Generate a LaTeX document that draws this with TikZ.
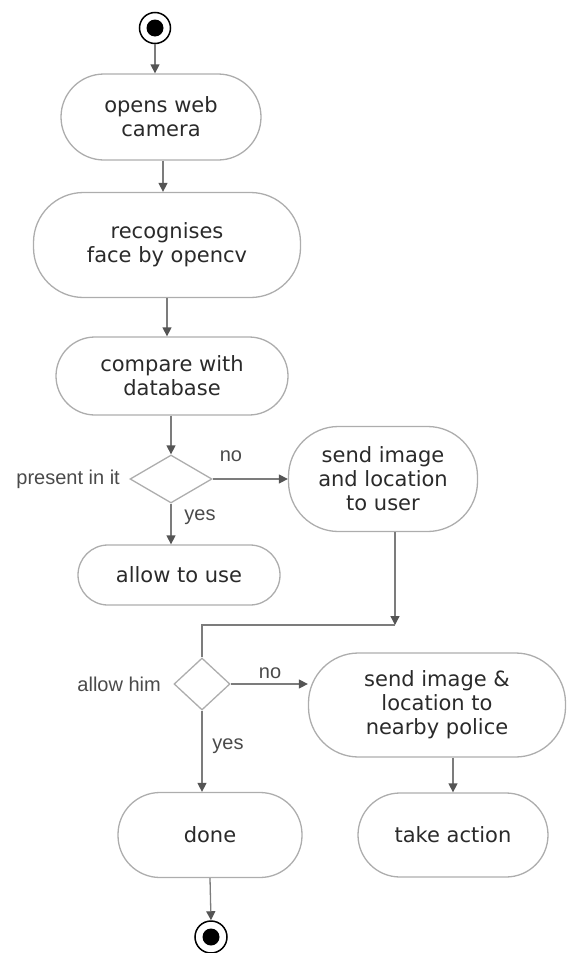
\documentclass[tikz,border=0pt]{standalone}
\usepackage{fontspec}
\setmainfont{DejaVu Sans}
\newfontfamily\lblfont{Liberation Sans}
\usepackage{xcolor}
\usepackage{tikz}
\usetikzlibrary{positioning}
\usetikzlibrary{shapes.geometric}
\usetikzlibrary{arrows.meta}
\definecolor{boxgray}{HTML}{ADADAD}
\definecolor{linegray}{HTML}{7C7C7C}
\definecolor{tipgray}{HTML}{555555}
\definecolor{txtgray}{HTML}{2A2A2A}

\begin{document}
\begin{tikzpicture}[x=1pt,y=-1pt,
		flow/.style={draw=linegray, line width=1.3pt, -{Triangle[width=9pt,length=9pt,color=tipgray]}},
		link/.style={draw=linegray, line width=1.3pt}]
	\tikzstyle{every node}=[text=txtgray]
	\tikzstyle{act}=[draw=boxgray, line width=1.3pt, align=center, inner sep=0pt, font=\fontsize{21}{24}\selectfont]
	\tikzstyle{decision}=[diamond, draw=boxgray, line width=1.3pt, inner sep=0pt]
	\tikzstyle{endpoint}=[circle, draw=black, line width=1.5pt, inner sep=0pt, path picture={\fill[black] (path picture bounding box.center) circle (8.5pt);}]
	\tikzstyle{lbl}=[font=\lblfont\fontsize{20}{22}\selectfont, text=txtgray!85]
	\useasboundingbox (0,0) rectangle (568,953);

	\node[endpoint, minimum size=31pt] (start) at (155,28) {};
	\node[act, minimum width=200pt, minimum height=86pt, rounded corners=43pt] (open) at (161,117) {opens web\\camera};
	\node[act, minimum width=267pt, minimum height=105pt, rounded corners=50pt] (recog) at (167,245) {recognises\\face by opencv};
	\node[act, minimum width=232pt, minimum height=78pt, rounded corners=39pt] (comp) at (172,376) {compare with\\database};
	\node[decision, minimum width=82pt, minimum height=48pt] (d1) at (171,479) {};
	\node[act, minimum width=189pt, minimum height=105pt, rounded corners=50pt] (sendu) at (383,479) {send image\\and location\\to user};
	\node[act, minimum width=202pt, minimum height=60pt, rounded corners=30pt] (allow) at (179,575) {allow to use};
	\coordinate (merge) at (395,625);
	\node[decision, minimum width=56pt, minimum height=52pt] (d2) at (202,684) {};
	\node[act, minimum width=257pt, minimum height=104pt, rounded corners=50pt] (sendp) at (437,705) {send image \&\\location to\\nearby police};
	\node[act, minimum width=184pt, minimum height=85pt, rounded corners=42pt] (done) at (210,835) {done};
	\node[act, minimum width=190pt, minimum height=84pt, rounded corners=42pt] (take) at (453,835) {take action};
	\node[endpoint, minimum size=32pt] (stop) at (211,937) {};

	\node[lbl, left=6pt of d1] (present) {present in it};
	\node[lbl] (no1) at (231,456) {no};
	\node[lbl] (yes1) at (200,517) {yes};
	\node[lbl, left=9pt of d2] (allowhim) {allow him};
	\node[lbl] (no2) at (270,673) {no};
	\node[lbl] (yes2) at (228,746) {yes};

	\draw[flow] (start.south) -- (start.south |- open.north);
	\draw[flow] ([xshift=2pt]open.south) -- ([xshift=2pt]open.south |- recog.north);
	\draw[flow] (recog.south) -- (recog.south |- comp.north);
	\draw[flow] (d1.north |- comp.south) -- (d1.north);
	\draw[flow] (d1.east) -- (sendu.west);
	\draw[flow] (d1.south) -- (d1.south |- allow.north);
	\draw[flow] (sendu.south -| merge) -- (merge);
	\draw[link] (merge) -| (d2.north);
	\draw[flow] (d2.east) -- (d2.east -| sendp.west);
	\draw[flow] (d2.south) -- (d2.south |- done.north);
	\draw[flow] (take.north |- sendp.south) -- (take.north);
	\draw[flow] (done.south) -- (stop.north);
\end{tikzpicture}
\end{document}
